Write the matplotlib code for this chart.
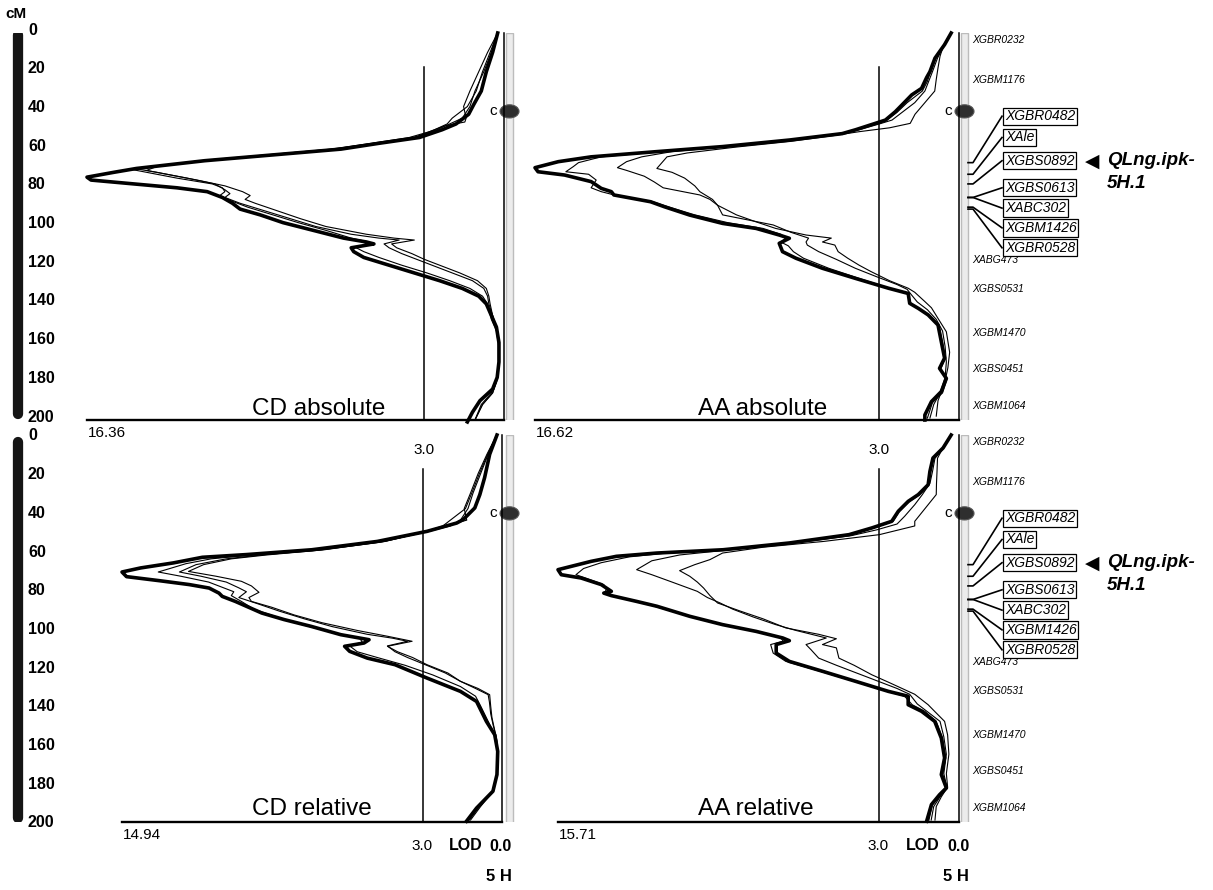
import matplotlib
matplotlib.use('Agg')
import matplotlib.pyplot as plt
from matplotlib.patches import Rectangle, Ellipse

plt.rcParams['font.family'] = ['Liberation Sans', 'DejaVu Sans']

# ---------------- data ----------------
PANEL_NAMES = ['CD absolute', 'AA absolute', 'CD relative', 'AA relative']
LOD_MAX = [16.36, 16.62, 14.94, 15.71]
THRESHOLD = 3.0
CM_TICKS = [0, 20, 40, 60, 80, 100, 120, 140, 160, 180, 200]
CHROM = '5 H'
CENTROMERE_CM = 40.5

MARKERS_PLAIN = ['XGBR0232', 'XGBM1176', 'XABG473', 'XGBS0531', 'XGBM1470', 'XGBS0451', 'XGBM1064']
MARKERS_PLAIN_CM = [3.8, 24.4, 117.5, 132.5, 155.0, 173.6, 192.6]
MARKERS_BOXED = ['XGBR0482', 'XAle', 'XGBS0892', 'XGBS0613', 'XABC302', 'XGBM1426', 'XGBR0528']
MARKERS_BOXED_CM = [67, 73, 78, 85, 85, 90, 91]
QTL_NAME = 'QLng.ipk-\n5H.1'
QTL_MARKER = 'XGBS0892'

# LOD profiles: (cM, LOD)
CD_ABS_THICK = [(0, 0.1), (10, 0.3), (20, 0.55), (30, 0.75), (37, 1.05), (42, 1.25), (47, 1.75), (50, 2.3),
                (54, 3.2), (57, 4.8), (60, 6.3), (63, 9.0), (66, 11.7), (70, 14.4), (72, 15.3), (74.5, 16.36),
                (76, 16.2), (78, 14.5), (80, 12.8), (82, 11.6), (85, 11.0), (88, 10.6), (91, 10.3), (94, 9.5),
                (98, 8.6), (102, 7.4), (106, 6.2), (108, 5.3), (109, 5.0), (111, 5.9), (113, 5.8), (116, 5.4),
                (120, 4.4), (124, 3.4), (128, 2.4), (132, 1.5), (136, 0.85), (140, 0.55), (146, 0.35),
                (152, 0.15), (160, 0.05), (170, 0.05), (178, 0.12), (184, 0.3), (190, 0.8), (196, 1.1), (201, 1.3)]
CD_ABS_THIN_A = [(0, 0.1), (10, 0.4), (20, 0.7), (30, 0.95), (38, 1.3), (44, 1.9), (47, 2.1), (50, 2.6),
                 (54, 3.4), (57, 5.0), (60, 6.6), (63, 9.3), (66, 11.9), (70.5, 14.6), (72, 14.0), (75, 12.8),
                 (78, 11.4), (80, 11.0), (82, 10.9), (84, 11.1), (87, 10.6), (90, 10.0), (94, 9.0), (98, 8.0),
                 (102, 6.9), (106, 5.9), (108, 5.2), (109, 5.1), (111, 5.7), (113, 5.4), (116, 4.8), (120, 3.9),
                 (124, 2.9), (128, 2.0), (132, 1.2), (136, 0.7), (140, 0.5), (148, 0.35), (154, 0.15),
                 (162, 0.06), (172, 0.06), (180, 0.15), (186, 0.35), (192, 0.75), (200, 1.0)]
CD_ABS_THIN_B = [(0, 0.1), (10, 0.5), (20, 0.85), (30, 1.2), (38, 1.45), (44, 1.35), (46, 1.4), (48, 2.2),
                 (51, 2.8), (54, 3.6), (57, 5.1), (60, 6.7), (63, 9.2), (66, 11.6), (69, 13.6), (71, 14.0),
                 (73, 13.2), (76, 12.0), (79, 10.9), (82, 10.2), (84, 9.9), (86, 10.1), (88, 9.7), (92, 8.8),
                 (96, 7.9), (100, 6.9), (104, 5.3), (106, 4.2), (107, 3.4), (109, 4.3), (111, 4.1), (114, 3.5),
                 (117, 3.0), (120, 2.4), (124, 1.6), (128, 0.9), (132, 0.55), (136, 0.45), (140, 0.4),
                 (146, 0.3), (154, 0.12), (162, 0.05), (172, 0.05), (180, 0.15), (186, 0.3), (192, 0.7), (200, 1.0)]
CD_ABS_THIN_C = [(0, 0.1), (10, 0.35), (20, 0.65), (30, 1.0), (38, 1.2), (44, 1.5), (47, 2.0), (50, 2.5),
                 (54, 3.4), (57, 5.0), (60, 6.5), (63, 9.1), (66, 11.7), (70, 14.5), (72, 13.6), (75, 12.4),
                 (78, 11.3), (81, 10.9), (83, 10.7), (85, 10.9), (88, 10.3), (92, 9.3), (96, 8.3), (100, 7.3),
                 (104, 5.9), (106, 4.8), (107, 4.0), (109, 4.6), (111, 4.4), (114, 3.9), (117, 3.3), (120, 2.7),
                 (124, 1.9), (128, 1.1), (132, 0.65), (136, 0.5), (140, 0.45), (146, 0.3), (154, 0.12),
                 (162, 0.05), (172, 0.05), (180, 0.14), (186, 0.3), (192, 0.7), (200, 1.0)]

AA_ABS_THICK = [(0, 0.16), (6, 0.42), (13, 0.8), (20, 1.0), (23, 1.13), (28.6, 1.33), (32, 1.72), (35.5, 1.98),
                (40.7, 2.37), (45, 2.76), (46.7, 3.16), (50, 3.94), (52, 4.47), (55.3, 6.55), (58.7, 9.2),
                (61.3, 11.8), (64, 14.4), (66.5, 15.7), (69.6, 16.62), (71.7, 16.5), (73.4, 15.45), (76.8, 14.4),
                (80.3, 14.0), (82, 13.6), (83.7, 13.5), (87.2, 12.05), (89.8, 11.5), (94.1, 10.5), (98.4, 9.2),
                (101, 7.87), (104.4, 6.96), (106.1, 6.56), (108.7, 6.96), (113, 6.83), (116.4, 6.3),
                (121.6, 5.25), (126.8, 3.95), (131.9, 2.64), (134.6, 1.86), (139.7, 1.8), (142.3, 1.46),
                (145.7, 1.07), (150.9, 0.68), (159.5, 0.55), (168, 0.42), (173.3, 0.62), (178.5, 0.35),
                (185.3, 0.55), (190.5, 0.94), (197.4, 1.2), (200, 1.2)]
AA_ABS_THIN_A = [(0, 0.16), (6, 0.45), (12, 0.6), (18, 0.68), (24, 0.75), (30, 0.81), (36, 1.2), (42, 1.59),
                 (46.7, 1.78), (49, 2.6), (51, 3.8), (53, 4.8), (56, 6.5), (59, 8.7), (62, 10.6), (64, 11.4),
                 (67, 11.6), (70, 11.8), (72, 11.2), (75, 10.7), (79, 10.3), (82, 10.1), (86, 9.6), (89, 9.4),
                 (94, 8.65), (97.5, 7.9), (101, 7.1), (104.4, 5.9), (106, 4.9), (108, 5.25), (109.6, 4.76),
                 (113, 4.63), (116.4, 4.25), (120, 3.8), (123.3, 3.33), (128, 2.6), (131.9, 1.86), (134, 1.6),
                 (138.8, 1.2), (142, 0.94), (147.5, 0.68), (154.4, 0.35), (165, 0.22), (173, 0.29),
                 (181, 0.42), (190, 0.68), (198, 0.75)]
AA_ABS_THIN_B = [(0, 0.16), (6, 0.43), (13, 0.7), (20, 0.9), (25, 1.05), (30, 1.2), (36, 1.6), (41, 2.1),
                 (45, 2.5), (47, 3.0), (50, 3.8), (52, 4.4), (55.3, 6.4), (58.7, 9.0), (61.3, 11.2), (64, 12.4),
                 (66.5, 13.0), (69.6, 13.36), (71, 13.0), (74, 12.3), (77, 11.9), (80, 11.55), (83.7, 10.1),
                 (86, 9.7), (89, 9.4), (94, 9.2), (96.6, 8.2), (99.2, 7.2), (103, 6.5), (106, 5.8), (108, 5.9),
                 (109.6, 5.85), (113, 5.4), (117, 4.7), (121.6, 3.95), (126, 3.1), (130, 2.3), (132.5, 1.9),
                 (135, 1.75), (139, 1.5), (143, 1.1), (148, 0.75), (154, 0.5), (162, 0.4), (170, 0.35),
                 (178, 0.4), (186, 0.6), (192, 0.85), (199, 1.0)]
AA_ABS_THIN_C = [(0, 0.16), (6, 0.44), (13, 0.78), (20, 0.98), (25, 1.1), (30, 1.3), (36, 1.9), (41, 2.3),
                 (45, 2.7), (47, 3.1), (50, 3.9), (52, 4.45), (55.3, 6.5), (58.7, 9.1), (61.3, 11.6), (64, 14.0),
                 (67, 14.9), (69, 15.1), (71.7, 15.4), (73, 14.5), (76, 14.2), (78, 14.3), (80, 14.4), (82, 14.0),
                 (84, 13.4), (87, 12.0), (90, 11.3), (94, 10.3), (98, 9.0), (101, 7.6), (104, 6.9), (106, 6.7),
                 (108, 6.9), (110, 6.6), (113, 6.4), (116.4, 6.0), (121.6, 5.0), (126.8, 3.8), (131.9, 2.6),
                 (134.6, 1.9), (139.7, 1.75), (143, 1.4), (146, 1.0), (151, 0.65), (160, 0.5), (168, 0.4),
                 (174, 0.58), (179, 0.33), (186, 0.5), (191, 0.9), (199, 1.1)]

CD_REL_THICK = [(0, 0.05), (10, 0.34), (22, 0.54), (30.8, 0.73), (37.7, 0.93), (43.7, 1.39), (45.5, 1.65),
                (49.8, 2.83), (55, 4.8), (59.3, 7.4), (61.8, 10.0), (63.2, 11.75), (66.1, 12.9), (68.7, 14.2),
                (70.8, 14.94), (73.2, 14.76), (75.3, 13.45), (77.3, 12.27), (79.1, 11.48), (81.7, 11.09),
                (83.4, 10.96), (86, 10.44), (92, 9.39), (95.4, 8.5), (98.9, 7.43), (103.2, 6.25), (105.8, 5.13),
                (107.5, 5.33), (109.2, 6.1), (111.8, 5.9), (115.3, 5.2), (118.7, 4.1), (125.6, 2.83),
                (132.5, 1.5), (137.7, 0.86), (148, 0.47), (154.9, 0.14), (163.5, 0.02), (175.5, 0.05),
                (184.1, 0.21), (192.8, 0.86), (199.6, 1.26)]
CD_REL_THIN_A = [(0, 0.06), (10, 0.4), (20, 0.7), (30, 1.0), (38, 1.2), (44, 1.5), (47, 1.9), (50, 2.8),
                 (55, 4.6), (59.3, 7.2), (62, 9.8), (64, 11.4), (66.5, 12.4), (70.8, 13.5), (73, 12.6),
                 (76, 11.5), (79, 10.9), (81, 10.5), (83, 10.6), (86, 10.2), (90, 9.7), (94, 8.8), (98, 7.8),
                 (102, 6.6), (105, 5.5), (107, 5.4), (109, 5.9), (112, 5.6), (115, 4.8), (119, 3.7), (124, 2.6),
                 (130, 1.5), (135, 0.9), (140, 0.7), (148, 0.4), (155, 0.15), (164, 0.03), (176, 0.05),
                 (184, 0.2), (192, 0.7), (199, 1.1)]
CD_REL_THIN_B = [(0, 0.06), (10, 0.45), (20, 0.8), (30, 1.1), (38, 1.35), (44, 1.25), (46, 1.8), (50, 2.9),
                 (55, 4.5), (59.3, 7.0), (62, 9.4), (64, 10.8), (67, 12.0), (70.8, 12.66), (73, 11.8),
                 (76, 10.8), (79, 10.3), (81, 10.0), (84, 10.3), (87, 9.6), (91, 8.7), (95, 7.7), (99, 6.6),
                 (103, 5.2), (105, 4.2), (106.6, 3.6), (109, 4.4), (112, 4.1), (115, 3.6), (118.7, 2.9),
                 (123, 2.1), (127.3, 1.5), (131, 0.9), (134.2, 0.4), (138, 0.35), (144, 0.3), (150, 0.2),
                 (156, 0.08), (164, 0.03), (176, 0.05), (184, 0.2), (192, 0.75), (199, 1.15)]
CD_REL_THIN_C = [(0, 0.06), (10, 0.42), (20, 0.75), (30, 1.05), (38, 1.3), (44, 1.9), (47, 2.2), (50, 2.9),
                 (55, 4.5), (59.3, 6.9), (62, 9.2), (64, 10.6), (67, 11.7), (70.5, 12.3), (73, 11.2),
                 (75.6, 10.2), (78, 9.8), (81.3, 9.5), (84, 9.9), (86, 9.8), (89, 9.0), (93, 8.1), (97, 7.0),
                 (101, 5.6), (104, 4.4), (106.6, 3.42), (109.2, 4.4), (112, 4.0), (115, 3.4), (118.7, 2.83),
                 (123, 2.0), (127.3, 1.5), (131, 0.8), (134.2, 0.34), (140, 0.3), (146, 0.25), (152, 0.15),
                 (158, 0.05), (166, 0.03), (176, 0.05), (184, 0.2), (192, 0.8), (199, 1.2)]

AA_REL_THICK = [(0, 0.16), (6.7, 0.48), (11.9, 0.88), (18.8, 1.0), (25.7, 1.07), (30.8, 1.46), (34.3, 1.86),
                (39.4, 2.25), (44.6, 2.51), (48, 3.29), (51.5, 4.2), (55.8, 6.56), (59.3, 9.18), (61, 11.8),
                (62.7, 13.4), (65.3, 14.4), (69.6, 15.71), (72.2, 15.58), (73.9, 14.8), (77.3, 14.0),
                (80.8, 13.6), (81.7, 13.9), (83, 13.6), (86, 12.6), (88.5, 11.8), (93.7, 10.5), (98, 9.2),
                (101.5, 7.87), (104.9, 6.82), (106.3, 6.56), (108.3, 7.08), (112.7, 7.08), (117, 6.56),
                (122.1, 5.25), (127.3, 3.94), (132.5, 2.64), (135, 1.86), (139.4, 1.86), (142.8, 1.33),
                (148, 0.81), (156.6, 0.55), (166.9, 0.42), (175.5, 0.55), (182.4, 0.35), (185.9, 0.62),
                (191, 0.94), (199.6, 1.13)]
AA_REL_THIN_A = [(0, 0.16), (7, 0.5), (12, 0.7), (19, 0.72), (25, 0.74), (30.8, 0.75), (36, 1.07), (44.6, 1.6),
                 (47, 1.6), (51.5, 3.0), (55, 5.2), (58, 7.6), (61, 9.2), (64.4, 9.7), (67, 10.3), (70.1, 10.9),
                 (73, 10.5), (76, 10.2), (79.1, 9.95), (83, 9.7), (86.8, 9.4), (91, 8.5), (95, 7.6), (99.7, 6.7),
                 (103, 5.4), (105.3, 4.7), (108.3, 5.25), (110, 4.7), (115.3, 4.6), (119, 4.0), (123.9, 3.3),
                 (128, 2.6), (131.6, 2.0), (134, 1.6), (139.4, 1.07), (143, 0.8), (148, 0.42), (155, 0.3),
                 (165, 0.25), (175, 0.35), (182, 0.3), (187, 0.55), (192, 0.75), (199, 0.8)]
AA_REL_THIN_B = [(0, 0.16), (7, 0.48), (12, 0.8), (19, 0.9), (25, 1.0), (30.8, 1.3), (36, 1.6), (42, 2.0),
                 (46, 2.3), (49, 3.1), (52, 4.1), (55.8, 6.3), (59.3, 8.9), (62, 10.9), (65, 12.0), (69.6, 12.6),
                 (72.2, 12.0), (76, 11.2), (80.8, 10.2), (84, 9.8), (86.8, 9.3), (90, 8.8), (94, 8.0), (98, 7.1),
                 (101, 6.3), (104.9, 5.1), (108.3, 5.9), (111, 5.7), (115.3, 5.4), (119, 4.7), (123, 3.9),
                 (127, 3.1), (131, 2.3), (134, 1.8), (139, 1.5), (143, 1.1), (148, 0.6), (156, 0.45),
                 (165, 0.35), (175, 0.45), (182, 0.33), (187, 0.6), (192, 0.85), (199, 0.95)]
AA_REL_THIN_C = [(0, 0.16), (7, 0.47), (12, 0.85), (19, 0.98), (25.7, 1.05), (30.8, 1.4), (34.3, 1.8),
                 (39.4, 2.2), (44.6, 2.45), (48, 3.2), (51.5, 4.1), (55.8, 6.4), (59.3, 9.0), (61, 11.4),
                 (63, 12.9), (66, 14.0), (69, 14.7), (72.2, 15.0), (74, 14.6), (77.3, 13.9), (80, 13.8),
                 (82, 13.9), (84, 13.3), (87, 12.3), (90, 11.5), (94, 10.4), (98, 9.1), (101.5, 7.8),
                 (104.9, 6.9), (106.5, 6.8), (108.3, 7.3), (112.7, 7.2), (117, 6.7), (122.1, 5.35),
                 (127.3, 4.0), (132.5, 2.7), (135, 2.0), (139.4, 1.7), (142.8, 1.2), (148, 0.75),
                 (156.6, 0.5), (166.9, 0.38), (175.5, 0.5), (182.4, 0.3), (186, 0.55), (191, 0.9), (199.6, 1.05)]

PANEL_THICK = [CD_ABS_THICK, AA_ABS_THICK, CD_REL_THICK, AA_REL_THICK]
PANEL_THIN = [[CD_ABS_THIN_A, CD_ABS_THIN_B, CD_ABS_THIN_C],
              [AA_ABS_THIN_A, AA_ABS_THIN_B, AA_ABS_THIN_C],
              [CD_REL_THIN_A, CD_REL_THIN_B, CD_REL_THIN_C],
              [AA_REL_THIN_A, AA_REL_THIN_B, AA_REL_THIN_C]]

# ---------------- layout (pixels) ----------------
W, H = 1213, 890
ROW_Y = [(33, 420), (435, 822)]                 # pixel rows of 0 cM and 200 cM
PANEL_X = [(87, 504), (535, 959), (122, 502), (558, 959)]
PANEL_ROW = [0, 0, 1, 1]
CHROM_X = [(506, 513), (961, 968), (506, 513), (961, 968)]
TITLE_X = [252, 698, 252, 698]
TITLE_Y = [197.4, 197.4, 196.4, 196.4]
BOX_LABEL_CM = [43, 54, 66, 80, 90.5, 100.7, 111]
LOD_RIGHT = -0.15

fig = plt.figure(figsize=(W / 100, H / 100), dpi=100)

rows = []
for top, bot in ROW_Y:
    ax = fig.add_axes([0, 1 - bot / H, 1, (bot - top) / H])
    ax.set_xlim(0, W)
    ax.set_ylim(200, 0)
    ax.axis('off')
    rows.append(ax)

# cM scale bars
scale_cap = [(1.0, 196.9), (3.6, 197.9)]
label_off = [-1.5, 0.5]
for r, ax in enumerate(rows):
    ax.plot([18, 18], list(scale_cap[r]), color='#151515', lw=7.4, solid_capstyle='round')
    for v in CM_TICKS:
        ax.text(28, v + label_off[r], str(v), fontsize=11.5, fontweight='bold', va='center', ha='left')
rows[0].text(16, -9.8, 'cM', fontsize=11, fontweight='bold', ha='center', va='center')

for i, name in enumerate(PANEL_NAMES):
    r = PANEL_ROW[i]
    rax = rows[r]
    top, bot = ROW_Y[r]
    x0, x1 = PANEL_X[i]
    ax = fig.add_axes([x0 / W, 1 - bot / H, (x1 - x0) / W, (bot - top) / H])
    ax.set_xlim(LOD_MAX[i], LOD_RIGHT)
    ax.set_ylim(200, 0)
    ax.patch.set_visible(False)
    for s in ['top', 'left']:
        ax.spines[s].set_visible(False)
    ax.spines['bottom'].set_linewidth(1.7)
    ax.spines['right'].set_linewidth(1.1)
    ax.set_xticks([])
    ax.set_yticks([])

    # threshold
    ax.plot([THRESHOLD, THRESHOLD], [17.7, 200], color='black', lw=1.1)

    for curve in PANEL_THIN[i]:
        ax.plot([p[1] for p in curve], [p[0] for p in curve], color='black', lw=0.8, clip_on=False)
    thick = PANEL_THICK[i]
    ax.plot([p[1] for p in thick], [p[0] for p in thick], color='black', lw=2.6,
            solid_joinstyle='round', clip_on=False)

    # chromosome bar and centromere
    cx0, cx1 = CHROM_X[i]
    rax.add_patch(Rectangle((cx0, 0), cx1 - cx0, 200.5, facecolor='#ececec', edgecolor='#bcbcbc', lw=1.0))
    cxc = (cx0 + cx1) / 2
    rax.add_patch(Ellipse((cxc, CENTROMERE_CM), 19, 6.8, facecolor='#2e2e2e', edgecolor='#555555', lw=0.8,
                          zorder=5))
    rax.text(cx0 - 13, CENTROMERE_CM, 'c', fontsize=11, ha='center', va='center')

    # title
    rax.text(TITLE_X[i], TITLE_Y[i], name, fontsize=17.5, ha='left', va='baseline')

    # axis texts
    rax.text(x0 + 1, 206.7, f'{LOD_MAX[i]:.2f}', fontsize=11, ha='left', va='center')
    thr_px = x1 - (THRESHOLD - LOD_RIGHT) * (x1 - x0) / (LOD_MAX[i] - LOD_RIGHT)
    if r == 0:
        rax.text(thr_px, 215.5, f'{THRESHOLD:.1f}', fontsize=11, ha='center', va='center')
    else:
        rax.text(thr_px - 1, 212.4, f'{THRESHOLD:.1f}', fontsize=11, ha='center', va='center')
        rax.text(x1 - 53, 212.4, 'LOD', fontsize=11.5, fontweight='bold', ha='left', va='center')
        rax.text(x1 - 1, 212.9, '0.0', fontsize=11.5, fontweight='bold', ha='center', va='center')
        rax.text(x1 - 3, 228.4, CHROM, fontsize=12, fontweight='bold', ha='center', va='center')

    # marker labels on the right side panels
    if i in (1, 3):
        for nm, cm in zip(MARKERS_PLAIN, MARKERS_PLAIN_CM):
            rax.text(cx1 + 4, cm, nm, fontsize=7.5, fontstyle='italic', ha='left', va='center')
        for nm, cm, lab in zip(MARKERS_BOXED, MARKERS_BOXED_CM, BOX_LABEL_CM):
            rax.plot([cx1, cx1 + 5, 1002], [cm, cm, lab], color='black', lw=1.2)
            rax.text(1005, lab, nm, fontsize=10, fontstyle='italic', ha='left', va='center',
                     bbox=dict(boxstyle='square,pad=0.12', facecolor='white', edgecolor='black', lw=0.9))
            if nm == QTL_MARKER:
                rax.text(1085, lab, '\u25C0', fontsize=13.5, family='DejaVu Sans', ha='left', va='center')
                qa, qb = QTL_NAME.split('\n')
                rax.text(1107, lab, qa, fontsize=13.5, fontweight='bold', fontstyle='italic',
                         ha='left', va='center')
                rax.text(1107, lab + 12, qb, fontsize=13.5, fontweight='bold', fontstyle='italic',
                         ha='left', va='center')

fig.savefig('out.png', dpi=100, facecolor='white')
